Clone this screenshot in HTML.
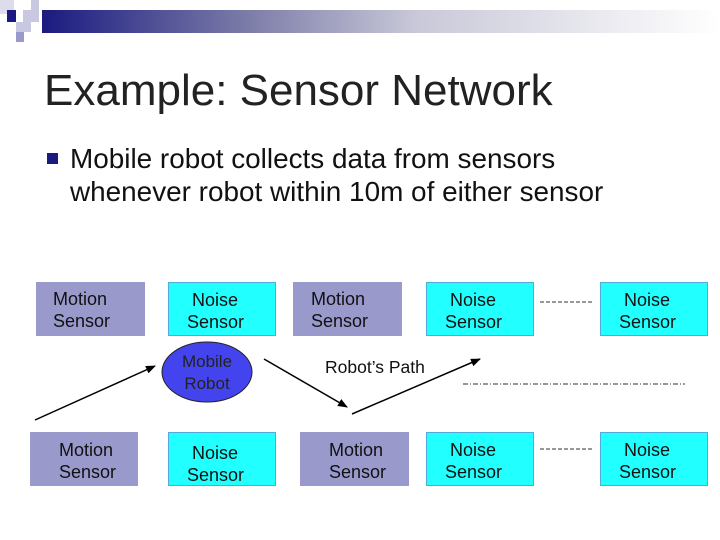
<!DOCTYPE html>
<html><head><style>
body{margin:0;width:720px;height:540px;background:#fff;position:relative;overflow:hidden;font-family:"Liberation Sans",sans-serif}
.b{position:absolute;box-sizing:border-box;font-size:18px;line-height:22px;color:#111;padding-top:6px}
.m{background:#9999cc}
.n{background:#22ffff;border:1px solid #5ad}
.t{position:absolute;white-space:nowrap}
</style></head><body>
<div style="position:absolute;left:42px;top:10px;width:678px;height:23px;background:linear-gradient(to right,#1a1a80,#7b7ba8 30%,#c8c8d8 55%,#fff 100%)"></div>
<div style="position:absolute;left:0;top:0;width:14px;height:14px;background:#dcdcec"></div>
<div style="position:absolute;left:7px;top:10px;width:9px;height:12px;background:#1a1a80"></div>
<div style="position:absolute;left:23px;top:10px;width:16px;height:12px;background:#c8c8e0"></div>
<div style="position:absolute;left:31px;top:0;width:8px;height:10px;background:#c8c8e0"></div>
<div style="position:absolute;left:16px;top:22px;width:15px;height:10px;background:#c8c8e0"></div>
<div style="position:absolute;left:16px;top:32px;width:8px;height:10px;background:#9999cc"></div>
<div class="t" style="left:44px;top:66px;font-size:44px;color:#222">Example: Sensor Network</div>
<div style="position:absolute;left:47px;top:153px;width:11px;height:11px;background:#1a1a80"></div>
<div class="t" style="left:70px;top:142px;font-size:27.9px;line-height:33px;color:#111">Mobile robot collects data from sensors<br>whenever robot within 10m of either sensor</div>

<div class="b m" style="left:36px;top:282px;width:109px;height:54px;padding-left:17px">Motion<br>Sensor</div>
<div class="b n" style="left:168px;top:282px;width:108px;height:54px;padding-left:18px">&nbsp;Noise<br>Sensor</div>
<div class="b m" style="left:293px;top:282px;width:109px;height:54px;padding-left:18px">Motion<br>Sensor</div>
<div class="b n" style="left:426px;top:282px;width:108px;height:54px;padding-left:18px">&nbsp;Noise<br>Sensor</div>
<div class="b n" style="left:600px;top:282px;width:108px;height:54px;padding-left:18px">&nbsp;Noise<br>Sensor</div>

<div class="b m" style="left:30px;top:432px;width:108px;height:54px;padding-left:29px;padding-top:7px">Motion<br>Sensor</div>
<div class="b n" style="left:168px;top:432px;width:108px;height:54px;padding-left:18px;padding-top:9px">&nbsp;Noise<br>Sensor</div>
<div class="b m" style="left:300px;top:432px;width:109px;height:54px;padding-left:29px;padding-top:7px">Motion<br>Sensor</div>
<div class="b n" style="left:426px;top:432px;width:108px;height:54px;padding-left:18px">&nbsp;Noise<br>Sensor</div>
<div class="b n" style="left:600px;top:432px;width:108px;height:54px;padding-left:18px">&nbsp;Noise<br>Sensor</div>

<svg style="position:absolute;left:0;top:0" width="720" height="540">
<defs><marker id="a" markerWidth="10" markerHeight="8" refX="9" refY="4" orient="auto" markerUnits="userSpaceOnUse"><path d="M0,0L10,4L0,8z" fill="#000"/></marker></defs>
<ellipse cx="207" cy="372" rx="45" ry="30" fill="#4444ee" stroke="#222" stroke-width="1"/>
<line x1="35" y1="420" x2="155" y2="366" stroke="#000" stroke-width="1.5" marker-end="url(#a)"/>
<line x1="264" y1="359" x2="347" y2="407" stroke="#000" stroke-width="1.5" marker-end="url(#a)"/>
<line x1="352" y1="414" x2="480" y2="359" stroke="#000" stroke-width="1.5" marker-end="url(#a)"/>
<line x1="540" y1="302" x2="593" y2="302" stroke="#333" stroke-dasharray="4,2"/>
<line x1="540" y1="449" x2="593" y2="449" stroke="#333" stroke-dasharray="4,2"/>
<line x1="463" y1="384" x2="685" y2="384" stroke="#333" stroke-dasharray="5,2,1,2"/>
</svg>
<div class="t" style="left:177px;top:351px;font-size:17px;line-height:22px;color:#222;text-align:center;width:60px">Mobile<br>Robot</div>
<div class="t" style="left:325px;top:357px;font-size:17.5px;color:#111">Robot’s Path</div>
</body></html>
